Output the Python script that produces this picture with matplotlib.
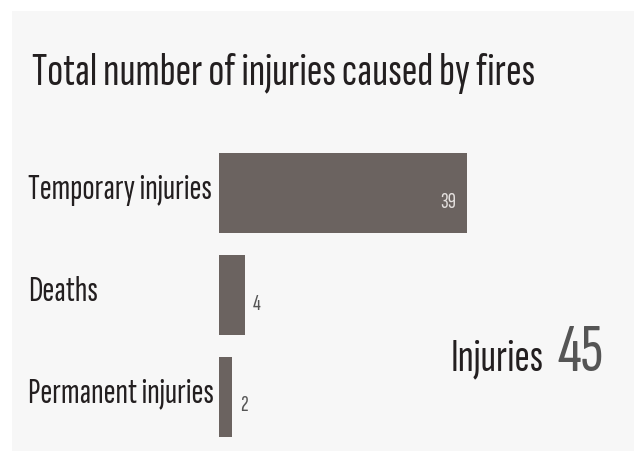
import matplotlib
matplotlib.use("Agg")
import matplotlib.pyplot as plt
from matplotlib import transforms
from matplotlib.patches import Rectangle

# ---- data ----
categories = ["Temporary injuries", "Deaths", "Permanent injuries"]
counts = [39, 4, 2]
total_label = "Injuries"
total_value = 45
title = "Total number of injuries caused by fires"

# ---- style ----
W, H, DPI = 634, 451, 100
FONT = "Sofia Sans Extra Condensed"
BAR = "#6b6360"
INK = "#231f20"
PANEL = "#f7f7f7"
PX_PER_UNIT = 6.34          # horizontal bar scale, pixels per injury


def fx(x):
    return x / W


def fy(y):
    return 1 - y / H


fig = plt.figure(figsize=(W / DPI, H / DPI), dpi=DPI, facecolor="white")
fig.add_artist(Rectangle((fx(12), 0), 1 - fx(12), fy(11), transform=fig.transFigure,
                         facecolor=PANEL, edgecolor="none", zorder=0))

renderer = fig.canvas.get_renderer()


def fit_width(txt, width_px):
    """Scale a text's font size so its rendered width equals width_px."""
    bb = txt.get_window_extent(renderer)
    txt.set_fontsize(txt.get_fontsize() * width_px / bb.width)
    return txt


# title
t = fig.text(fx(31.7), fy(85), title, family=FONT, weight="bold", color=INK,
             fontsize=30, va="baseline", ha="left")
fit_width(t, 506)

# bar axes: rows are 101.7 px apart, bars 80 px tall
row = 101.7
ax_left, ax_top = 219.3, 193.3 - row / 2
ax = fig.add_axes([fx(ax_left), fy(ax_top + 3 * row), fx(W - ax_left), 3 * row / H])
ax.set_facecolor("none")
ax.axis("off")
ypos = list(range(len(categories)))
ax.barh(ypos, counts, height=80 / row, color=BAR, edgecolor="none")
ax.set_xlim(0, (W - ax_left) / PX_PER_UNIT)
ax.set_ylim(len(categories) - 0.5, -0.5)

# category labels to the left of the bars
lab_tf = transforms.blended_transform_factory(fig.transFigure, ax.transData)
down6 = transforms.ScaledTranslation(0, -6 / DPI, fig.dpi_scale_trans)
labels = []
for i, name in enumerate(categories):
    labels.append(ax.text(fx(28), i, name, transform=lab_tf + down6, family=FONT,
                          color=INK, fontsize=26, va="baseline", ha="left"))
fs = fit_width(labels[0], 184).get_fontsize()
for lab in labels[1:]:
    lab.set_fontsize(fs)

# value labels: inside the long bar, beside the short ones
down14 = transforms.ScaledTranslation(0, -14.5 / DPI, fig.dpi_scale_trans)
for i, v in enumerate(counts):
    if v > 10:
        off = transforms.ScaledTranslation(-10 / DPI, 0, fig.dpi_scale_trans)
        ax.text(v, i, str(v), transform=ax.transData + down14 + off, family=FONT,
                color="#e4e0de", fontsize=16.5, va="baseline", ha="right")
    else:
        off = transforms.ScaledTranslation(8.5 / DPI, 0, fig.dpi_scale_trans)
        ax.text(v, i, str(v), transform=ax.transData + down14 + off, family=FONT,
                color="#555555", fontsize=16.5, va="baseline", ha="left")

# total
tl = fig.text(fx(450.7), fy(370.7), total_label, family=FONT, color=INK,
              fontsize=30, va="baseline", ha="left")
fit_width(tl, 93.3)
tv = fig.text(fx(558), fy(370.7), str(total_value), family=FONT, weight="light",
              color="#555555", fontsize=55, va="baseline", ha="left")
fit_width(tv, 46)

fig.savefig("out.png", dpi=DPI, facecolor="white")
